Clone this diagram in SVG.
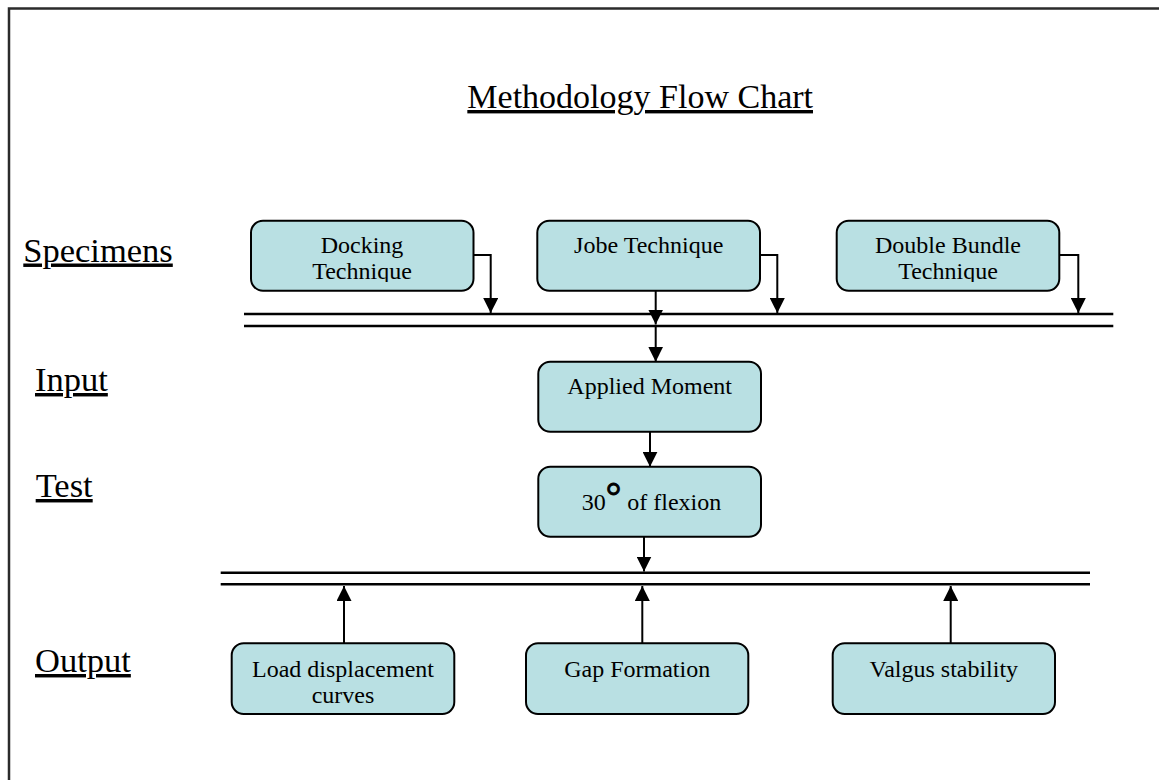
<svg xmlns="http://www.w3.org/2000/svg" width="1159" height="780" viewBox="0 0 1159 780">
  <style>
    text { font-family: "Liberation Serif", "Times New Roman", serif; fill: #000; }
    .title { font-size: 34px; text-decoration: underline; }
    .stage { font-size: 34.5px; text-decoration: underline; }
    .label { font-size: 24px; text-anchor: middle; }
    .box { fill: #b9e0e3; stroke: #000; stroke-width: 2; }
    .bus { stroke: #000; stroke-width: 2.5; fill: none; }
    .conn { stroke: #000; stroke-width: 2; fill: none; marker-end: url(#arrow); }
    .deg { font-size: 39px; stroke: #000; stroke-width: 0.9; }
  </style>
  <defs>
    <marker id="arrow" markerUnits="userSpaceOnUse" markerWidth="15" markerHeight="15" refX="15" refY="7.5" orient="auto">
      <path d="M0,0 L15,7.5 L0,15 Z" fill="#000"/>
    </marker>
    <!-- two-line labels are cut off at the bottom of the text area -->
    <clipPath id="clip-docking"><rect x="251" y="221" width="222.5" height="61"/></clipPath>
    <clipPath id="clip-double"><rect x="836.7" y="221" width="222.5" height="61"/></clipPath>
  </defs>

  <rect width="1159" height="780" fill="#fff"/>

  <!-- page frame -->
  <path d="M9,780 V8.5 H1159" fill="none" stroke="#2b2b2b" stroke-width="2.5"/>

  <g id="title">
    <text class="title" x="813" y="108" text-anchor="end">Methodology Flow Chart</text>
  </g>

  <g id="stage-labels">
    <text class="stage" x="23.3" y="261.5">Specimens</text>
    <text class="stage" x="35" y="391">Input</text>
    <text class="stage" x="35.7" y="497">Test</text>
    <text class="stage" x="35" y="672">Output</text>
  </g>

  <!-- collector bars -->
  <g id="bus-specimens">
    <line class="bus" x1="244" y1="314" x2="1113.3" y2="314"/>
    <line class="bus" x1="244" y1="326" x2="1113.3" y2="326"/>
  </g>
  <g id="bus-output">
    <line class="bus" x1="220.7" y1="572.7" x2="1090" y2="572.7"/>
    <line class="bus" x1="220.7" y1="584.3" x2="1090" y2="584.3"/>
  </g>

  <g id="connectors">
    <path class="conn" d="M473.3,255 H490.7 V313"/>
    <path class="conn" d="M760,255 H777.3 V313"/>
    <path class="conn" d="M1059.3,255 H1078.3 V313"/>
    <path class="conn" d="M655.7,290.7 V324.5"/>
    <path class="conn" d="M655.7,326 V361.7"/>
    <path class="conn" d="M650,431.7 V466.7"/>
    <path class="conn" d="M644,536.7 V571.5"/>
    <path class="conn" d="M344,643.3 V586"/>
    <path class="conn" d="M642.3,643.3 V586"/>
    <path class="conn" d="M950.7,643.3 V586"/>
  </g>

  <g id="docking">
    <rect class="box" x="251" y="220.7" width="222.5" height="70" rx="12"/>
    <text class="label" x="362" y="252.7" clip-path="url(#clip-docking)">Docking<tspan x="362" y="279">Technique</tspan></text>
  </g>

  <g id="jobe">
    <rect class="box" x="537.3" y="220.7" width="222.7" height="70" rx="12"/>
    <text class="label" x="648.7" y="252.7">Jobe Technique</text>
  </g>

  <g id="double-bundle">
    <rect class="box" x="836.7" y="220.7" width="222.6" height="70" rx="12"/>
    <text class="label" x="948" y="252.7" clip-path="url(#clip-double)">Double Bundle<tspan x="948" y="279">Technique</tspan></text>
  </g>

  <g id="applied-moment">
    <rect class="box" x="538.3" y="361.7" width="222.7" height="70" rx="12"/>
    <text class="label" x="649.7" y="394.3">Applied Moment</text>
  </g>

  <g id="flexion">
    <rect class="box" x="538.3" y="466.7" width="222.7" height="70" rx="12"/>
    <text x="581.7" y="510" font-size="24">30<tspan class="deg">°</tspan> of flexion</text>
  </g>

  <g id="load-displacement">
    <rect class="box" x="231.7" y="643.3" width="222.6" height="70.7" rx="12"/>
    <text class="label" x="343" y="676.7">Load displacement<tspan x="343" y="703.3">curves</tspan></text>
  </g>

  <g id="gap-formation">
    <rect class="box" x="526" y="643.3" width="222.3" height="70.7" rx="12"/>
    <text class="label" x="637.2" y="676.7">Gap Formation</text>
  </g>

  <g id="valgus-stability">
    <rect class="box" x="832.7" y="643.3" width="222.3" height="70.7" rx="12"/>
    <text class="label" x="943.8" y="676.7">Valgus stability</text>
  </g>
</svg>
